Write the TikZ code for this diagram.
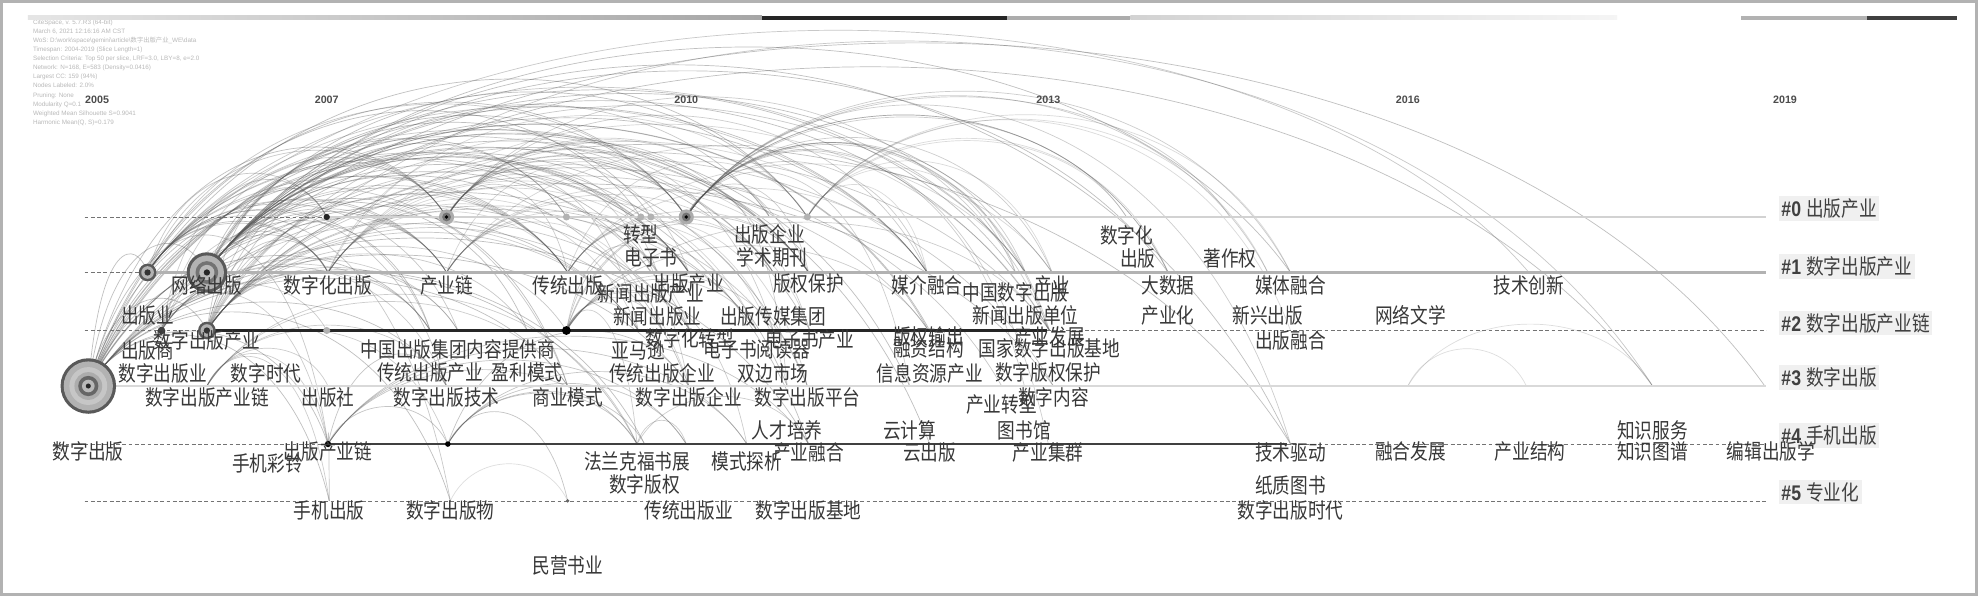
\documentclass[tikz,border=0pt]{standalone}
\usepackage{fontspec}
\usepackage{graphicx}
\setmainfont{Liberation Sans}
\newfontfamily\cjk{Noto Sans CJK SC}
\usetikzlibrary{calc}
\pgfdeclarelayer{bg}
\pgfdeclarelayer{fg}
\pgfsetlayers{bg,main,fg}
\newcommand{\kwtext}[1]{\scalebox{1}[1.2]{#1}}
\tikzset{
  arcline/.style={draw=black!65, line width=0.55pt},
  kw/.style={font=\cjk\fontsize{14}{14}\selectfont, text=black!78, inner sep=0pt},
  clusterlbl/.style={anchor=west, fill=gray!12, inner sep=2pt, text=black!75, font=\fontsize{14}{14}\selectfont},
  yearlbl/.style={font=\bfseries\fontsize{8.5}{8.5}\selectfont, text=black!70},
  dashline/.style={densely dashed, black!55, line width=0.5pt},
}
\begin{document}
\begin{tikzpicture}[x=1pt, y=-1pt]
\useasboundingbox (0,0) rectangle (1568,472);
\begin{pgfonlayer}{bg}
\fill[white] (0,0) rectangle (1568,472);
\end{pgfonlayer}
\draw[gray!60, line width=2.5pt] (1,1) rectangle (1567,471);

% run info
\node[anchor=north west, align=left, text=gray!55, font=\fontsize{5}{7.2}\selectfont, inner sep=0pt] (info) at (26,15.5) {CiteSpace, v. 5.7.R3 (64-bit)\\
March 6, 2021 12:16:16 AM CST\\
WoS: D:\textbackslash work\textbackslash space\textbackslash gemini\textbackslash article\textbackslash{\cjk 数字出版产业}\_WE\textbackslash data\\
Timespan: 2004-2019 (Slice Length=1)\\
Selection Criteria: Top 50 per slice, LRF=3.0, LBY=8, e=2.0\\
Network: N=168, E=583 (Density=0.0416)\\
Largest CC: 159 (94\%)\\
Nodes Labeled: 2.0\%\\
Pruning: None\\
Modularity Q=0.1\\
Weighted Mean Silhouette S=0.9041\\
Harmonic Mean(Q, S)=0.179};

% time bar
\shade[left color=gray!20, right color=gray!70] (22,12.5) rectangle (604,15.5);
\fill[black!85] (604,12.5) rectangle (798,15.5);
\fill[gray!65] (798,12.5) rectangle (896,15.5);
\shade[left color=gray!35, right color=gray!8] (896,12.5) rectangle (1282,15.5);
\fill[gray!60] (1380,12.5) rectangle (1480,15.5);
\fill[black!75] (1480,12.5) rectangle (1551,15.5);

\foreach \yr/\x in {2005/77, 2007/259, 2010/544, 2013/831, 2016/1116, 2019/1415}
  \node[yearlbl] (y\yr) at (\x,79) {\yr};

% cluster lines
\draw[dashline] (67,172) -- (259,172);
\draw[gray!35, line width=1.8pt] (259,172) -- (1400,172);
\draw[dashline] (67,216) -- (117,216);
\draw[gray!60, line width=2pt] (117,216) -- (1400,216);
\draw[dashline] (67,262) -- (164,262);
\draw[black!85, line width=2.5pt] (164,262) -- (830,262);
\draw[dashline] (830,262) -- (1400,262);
\draw[gray!30, line width=1.8pt] (69,306) -- (1400,306);
\draw[dashline] (42,352) -- (260,352);
\draw[black!75, line width=2pt] (260,352) -- (1020,352);
\draw[dashline] (1020,352) -- (1400,352);
\draw[dashline] (67,397) -- (1400,397);

% keywords
\begin{pgfonlayer}{fg}
\foreach \n/\x/\ly/\t in {zx/508/186/转型, dzs/516/204/电子书, cbqy/610/186/出版企业, xsqk/612/204/学术期刊,
    szh/893/187/数字化, cbb/902/205/出版, zzq/975/205/著作权}
  {\coordinate (\n) at (\x,172); \node[kw] (\n-l) at (\x,\ly) {\kwtext{\t}};}
\foreach \n/\x/\ly/\t in {cby/117/250/出版业, wlcb/164/226/网络出版, szhcb/260/226/数字化出版, cyl/354/226/产业链,
    ctcb/450/226/传统出版, cbcy/546/225/出版产业, xwcbcy/516/233/新闻出版产业, xwcby/521/251/新闻出版业,
    bqbh/641/225/版权保护, cbcmjt/613/251/出版传媒集团, mjrh/735/226/媒介融合, zgszcb/805/232/中国数字出版,
    cy/834/226/产业, xwcbdw/813/250/新闻出版单位, dsj/926/226/大数据, cyh/926/250/产业化,
    mtrh/1023/226/媒体融合, xxcb/1005/250/新兴出版, wlwx/1118/250/网络文学, jscx/1212/226/技术创新}
  {\coordinate (\n) at (\x,216); \node[kw] (\n-l) at (\x,\ly) {\kwtext{\t}};}
\foreach \n/\x/\ly/\t in {szcbcy/164/270/数字出版产业, cbs/117/278/出版商, szcby/129/296/数字出版业, szsd/211/296/数字时代,
    zgcb/363/277/中国出版集团内容提供商, ctcbcy/341/295/传统出版产业, ylms/418/295/盈利模式,
    ymx/506/278/亚马逊, szhzx/547/268/数字化转型, ctcbqy/525/296/传统出版企业, dzsyd/600/277/电子书阅读器,
    sbsc/613/296/双边市场, dzscy/642/269/电子书产业, bqsc/736/267/版权输出, rzjg/736/276/融资结构,
    xxzy/737/296/信息资源产业, cyfz/832/267/产业发展, gjjd/832/276/国家数字出版基地,
    szbqbh/831/295/数字版权保护, cbrh/1023/270/出版融合}
  {\coordinate (\n) at (\x,262); \node[kw] (\n-l) at (\x,\ly) {\kwtext{\t}};}
\foreach \n/\x/\ly/\t in {szcb/70/358/数字出版, szcbcyl/164/315/数字出版产业链, cbsh/260/315/出版社,
    szcbjs/354/315/数字出版技术, syms/450/315/商业模式, szcbqy/546/315/数字出版企业,
    szcbpt/640/315/数字出版平台, rcpy/624/341/人才培养, yjs/721/341/云计算, cyzx/794/321/产业转型,
    sznr/835/315/数字内容, tsg/812/341/图书馆, zsfw/1310/341/知识服务}
  {\coordinate (\n) at (\x,306); \node[kw] (\n-l) at (\x,\ly) {\kwtext{\t}};}
\foreach \n/\x/\ly/\t in {cbcyl/260/358/出版产业链, sjcl/212/367/手机彩铃, flkf/505/366/法兰克福书展,
    szbq/511/384/数字版权, mstx/592/366/模式探析, cyrh/641/359/产业融合, ycb/737/359/云出版,
    cyjq/831/359/产业集群, jsqd/1023/359/技术驱动, zzts/1023/385/纸质图书, rhfz/1118/358/融合发展,
    cyjg/1213/358/产业结构, zstp/1310/358/知识图谱, bjcbx/1404/358/编辑出版学}
  {\coordinate (\n) at (\x,352); \node[kw] (\n-l) at (\x,\ly) {\kwtext{\t}};}
\foreach \n/\x/\ly/\t in {sjcb/261/405/手机出版, szcbw/357/405/数字出版物, mysy/450/448/民营书业,
    ctcby/546/405/传统出版业, szcbjd/641/405/数字出版基地, szcbsd/1023/405/数字出版时代}
  {\coordinate (\n) at (\x,397); \node[kw] (\n-l) at (\x,\ly) {\kwtext{\t}};}
\end{pgfonlayer}

\coordinate (a0a) at (259,172);
\coordinate (a0b) at (354,172);
\coordinate (a0c) at (449,172);
\coordinate (a0d) at (544,172);
\coordinate (a0e) at (640,172);
\coordinate (a2a) at (128,262);
\coordinate (a2b) at (259,262);
\coordinate (a2c) at (449,262);
\coordinate (a3a) at (1116,306);
\coordinate (a3b) at (1210,306);
\coordinate (a3d) at (1399,306);
\coordinate (a4a) at (355,352);
\coordinate (a4c) at (544,352);

% co-occurrence arcs
\begin{pgfonlayer}{bg}
\foreach \h/\o/\ts in {
  szcb/0.38/{cby,wlcb,szcbcy,szhcb,cyl,ctcb,cbcy,xwcby,bqbh,mjrh,a0b,a0d,a0e,zx,szcbjs,syms,szcbqy,ctcbcy,ymx,dzsyd,szhzx,cbcyl,sjcb,szcbw,flkf,szbq,cyrh,sznr,zgszcb,jsqd,zsfw},
  wlcb/0.38/{szhcb,cyl,ctcb,xwcbcy,cbcy,bqbh,cbcmjt,mjrh,cy,a0b,a0c,a0d,a0e,dzs,ctcbcy,ylms,syms,szcbqy,szcbpt,dzscy,bqsc,xxzy,cyfz,dsj,mtrh,rcpy,yjs,cyrh,ycb,a3d,jsqd},
  cby/0.33/{a0a,szhcb,cyl,ctcb,cbcy,a0b,a0d,bqbh,zgcb,ctcbcy,szcbjs,syms,szhzx,cbcmjt,mjrh,cbcyl,szcbw,xwcbdw,jscx},
  szcbcy/0.33/{szhcb,a0a,a0b,cyl,ctcb,a0c,cbcy,a2c,zgcb,ctcbcy,ylms,ymx,szhzx,dzsyd,ctcbqy,sbsc,bqbh,cbqy,xwcbdw,gjjd,sznr,cyzx,rzjg,zsfw},
  a2a/0.3/{a0a,szhcb,cyl,a0b,ctcb,zgcb,ctcbcy,szcbjs,cbcyl,ymx,a2b},
  szcbcyl/0.3/{cbcyl,a4a,cbsh,szcbjs,syms,flkf,sjcb},
  szhcb/0.25/{ctcb,cbcy,a0d,bqbh,ymx,dzsyd,szcbqy,mjrh,a0e,cyfz},
  cyl/0.25/{a0d,cbcy,bqbh,szhzx,ctcbqy,cbcmjt,sbsc,xwcbdw},
  ctcb/0.25/{a0e,bqbh,mjrh,dzscy,szcbpt,rcpy,cy},
  a0b/0.3/{ctcb,cbcy,a0d,cbqy,bqbh,mjrh,xwcby,ymx,sbsc,dzscy,szcbqy,cyfz},
  a0d/0.3/{cbqy,bqbh,mjrh,zgszcb,cy,dsj,mtrh,xwcbdw,cyh,gjjd,szbqbh,rcpy,yjs,tsg,cyjq,xxcb,szh,zzq,jsqd},
  a0e/0.22/{mjrh,zgszcb,cy,dsj,mtrh,szh,xxcb,cbrh},
  a2c/0.3/{cbcy,xwcby,ymx,szhzx,dzsyd,cbcmjt,bqbh,ctcbqy,szcbpt,flkf,bqsc,cyfz,mstx},
  cbcyl/0.35/{a4a,flkf,a4c,mstx,cyrh,szcbjs,sjcb},
  a4a/0.35/{flkf,szbq,a4c,mstx,szcbqy,mysy},
  flkf/0.3/{a4c,cyrh},
  a3a/0.2/{a3b,zsfw},
  szcbw/0.2/{mysy}}
  {\foreach \t in \ts
    {\draw[arcline, draw opacity=\o] let \p1=(\h), \p2=(\t), \n1={max(\y1,\y2)},
       \n2={min(\n1+0.26*abs(\x2-\x1)+15, \n1+(-24-\n1)/0.75)}, \n3={0.2*(\x2-\x1)} in
       (\p1) .. controls ({\x1+\n3},\n2) and ({\x2-\n3},\n2) .. (\p2);}}
\end{pgfonlayer}

% nodes
\foreach \r/\c in {22pt/black!65, 19.5pt/gray!60, 15pt/gray!45, 11pt/gray!65, 8pt/black!60, 5pt/gray!55, 2pt/black!85}
  \fill[\c] (szcb) circle (\r);
\foreach \r/\c in {16pt/black!65, 13.5pt/gray!60, 9pt/black!55, 6pt/gray!55, 2.5pt/black!85}
  \fill[\c] (wlcb) circle (\r);
\foreach \p in {cby, szcbcy}
  \foreach \r/\c in {7pt/black!65, 5pt/gray!60, 2.5pt/black!80}
    \fill[\c] (\p) circle (\r);
\foreach \p in {a0b, a0d}
  \foreach \r/\c in {6pt/gray!65, 3.5pt/black!55, 1.5pt/black}
    \fill[\c] (\p) circle (\r);
\foreach \p in {a0c, zx, dzs, a0e, a2b}
  \fill[gray!60] (\p) circle (2.8pt);
\fill[black!85] (a0a) circle (2.5pt);
\fill[black] (a2c) circle (3.5pt);
\fill[black!75] (a2a) circle (3pt);
\fill[black] (cbcyl) circle (2.5pt);
\fill[black] (a4a) circle (2.2pt);
\fill[black!60] (mysy) circle (1.5pt);

% cluster names
\foreach \i/\t/\y in {0/出版产业/165, 1/数字出版产业/211, 2/数字出版产业链/256, 3/数字出版/299, 4/手机出版/345, 5/专业化/390}
  \node[clusterlbl] (c\i) at (1410,\y) {\kwtext{\bfseries\#\i\ {\cjk\mdseries\t}}};
\end{tikzpicture}
\end{document}
